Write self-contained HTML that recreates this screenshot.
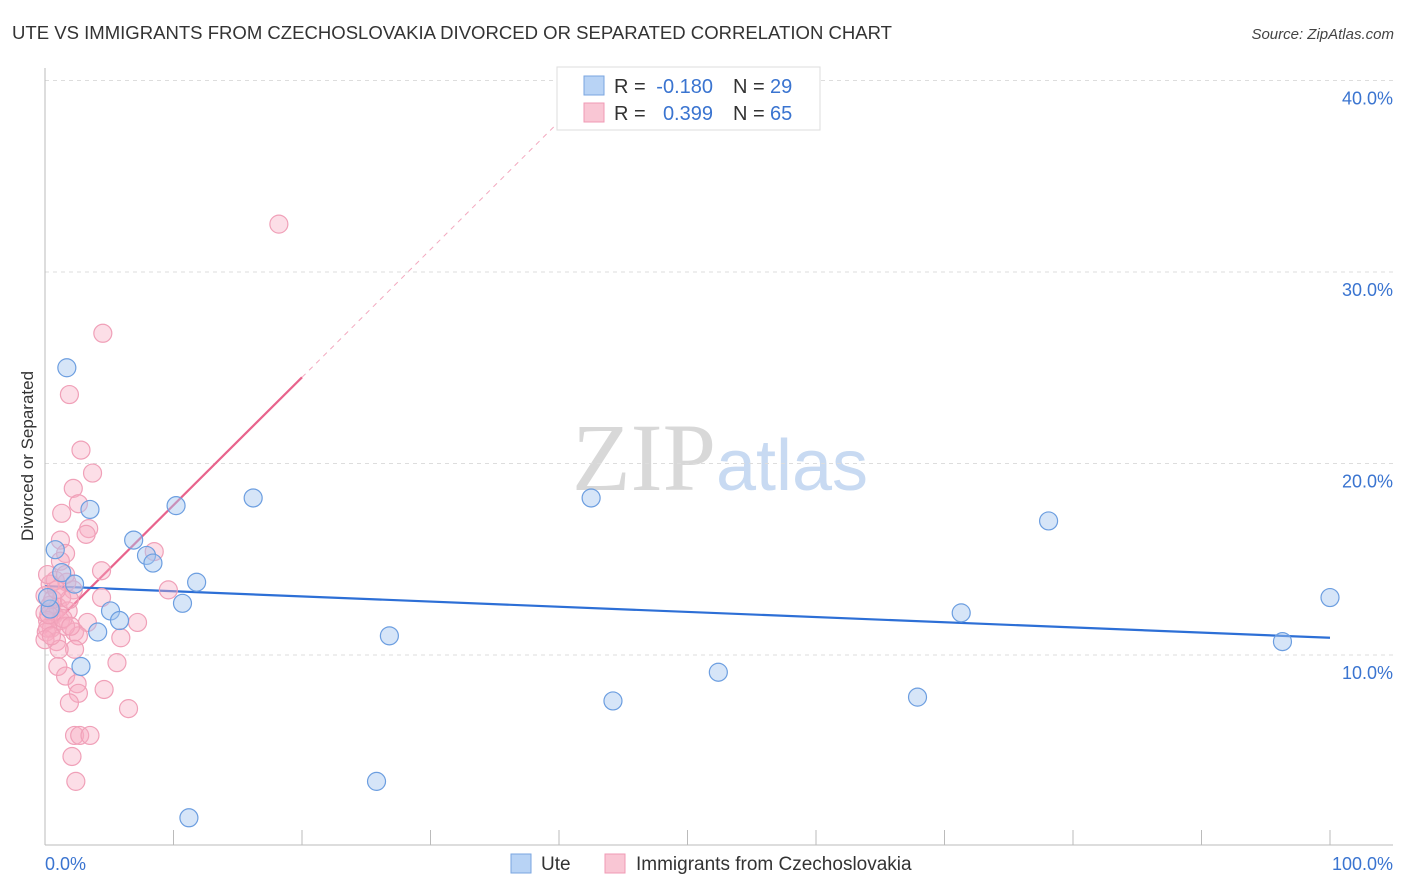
<!DOCTYPE html>
<html><head><meta charset="utf-8"><style>
body{margin:0;background:#fff;font-family:"Liberation Sans",sans-serif}
svg{display:block}
</style></head><body>
<svg id="chart" width="1406" height="892" xmlns="http://www.w3.org/2000/svg">
<text x="12" y="39" font-size="18" fill="#333" textLength="880" lengthAdjust="spacingAndGlyphs">UTE VS IMMIGRANTS FROM CZECHOSLOVAKIA DIVORCED OR SEPARATED CORRELATION CHART</text>
<text x="1394" y="39" font-size="15" fill="#444" text-anchor="end" font-style="italic">Source: ZipAtlas.com</text>
<text x="720" y="490" font-size="96" text-anchor="middle"><tspan fill="#d8d8d8" font-family="Liberation Serif">ZIP</tspan><tspan fill="#c8daf2" font-size="72">atlas</tspan></text>
<g id="grid"></g>
<line x1="45" y1="68" x2="45" y2="845" stroke="#bbb"/>
<line x1="45" y1="845" x2="1393" y2="845" stroke="#bbb"/>
<g id="ticks"></g>
<text transform="translate(33,456) rotate(-90)" font-size="17" fill="#333" text-anchor="middle">Divorced or Separated</text>
<text x="45" y="870" font-size="18" fill="#3a74d0">0.0%</text>
<text x="1393" y="870" font-size="18" fill="#3a74d0" text-anchor="end">100.0%</text>
<g id="trend"></g>
<g id="points"></g>
<g>
<rect x="557" y="67" width="263" height="63" fill="#fff" stroke="#ddd"/>
<rect x="584" y="76" width="20" height="19" fill="#b8d3f5" stroke="#7aa6e0"/>
<rect x="584" y="103" width="20" height="19" fill="#f9c6d4" stroke="#f09ab4"/>
<text x="614" y="93" font-size="20" fill="#333">R =</text>
<text x="713" y="93" font-size="20" fill="#3a74d0" text-anchor="end">-0.180</text>
<text x="733" y="93" font-size="20" fill="#333">N =</text>
<text x="770" y="93" font-size="20" fill="#3a74d0">29</text>
<text x="614" y="120" font-size="20" fill="#333">R =</text>
<text x="713" y="120" font-size="20" fill="#3a74d0" text-anchor="end">0.399</text>
<text x="733" y="120" font-size="20" fill="#333">N =</text>
<text x="770" y="120" font-size="20" fill="#3a74d0">65</text>
</g>
<g>
<rect x="511" y="854" width="20" height="19" fill="#b8d3f5" stroke="#7aa6e0"/>
<text x="541" y="870" font-size="19" fill="#333">Ute</text>
<rect x="605" y="854" width="20" height="19" fill="#f9c6d4" stroke="#f09ab4"/>
<text x="636" y="870" font-size="19" fill="#333">Immigrants from Czechoslovakia</text>
</g>
</svg>
<script>
const yTicks=[10,20,30,40];
const yTickLabels=["10.0%","20.0%","30.0%","40.0%"];
const xTickCount=10;
const uteX=[1.7,0.8,3.5,1.3,2.3,6.9,7.9,8.4,10.2,16.2,11.8,10.7,5.1,5.8,4.1,2.8,11.2,25.8,26.8,42.5,44.2,52.4,67.9,71.3,78.1,96.3,100,0.4,0.2];
const uteY=[25.0,15.5,17.6,14.3,13.7,16.0,15.2,14.8,17.8,18.2,13.8,12.7,12.3,11.8,11.2,9.4,1.5,3.4,11.0,18.2,7.6,9.1,7.8,12.2,17.0,10.7,13.0,12.4,13.0];
const czX=[18.2,4.5,1.9,2.8,3.7,2.2,2.6,1.3,3.4,3.2,1.2,1.6,1.2,4.4,0.8,1.7,2.2,0,1.3,4.4,0.4,1.0,1.8,0,0.7,0.2,1.2,3.3,7.2,0.5,0.1,2.3,2.6,5.9,0.9,2.3,1.0,5.6,1.6,2.5,4.6,2.6,1.9,6.5,2.3,2.7,3.5,2.1,2.4,8.5,9.6,0.2,0.4,1.1,1.6,0,0.6,1.9,0.3,1.4,0.9,0.2,1.6,0.5,2.0];
const czY=[32.5,26.8,23.6,20.7,19.5,18.7,17.9,17.4,16.6,16.3,16.0,15.3,14.9,14.4,13.9,13.8,13.4,13.1,13.0,13.0,12.6,12.5,12.3,12.2,12.1,11.8,11.8,11.7,11.7,11.4,11.2,11.2,11.0,10.9,10.7,10.3,9.4,9.6,8.9,8.5,8.2,8.0,7.5,7.2,5.8,5.8,5.8,4.7,3.4,15.4,13.4,11.4,13.7,10.3,11.5,10.8,12.9,12.9,12.1,11.9,13.4,14.2,14.2,11.0,11.5];
const uteTrend=[13.6,10.9];
const czTrend=[11.15,24.5];
const sx=p=>45+12.85*p, sy=v=>846.5-19.15*v;
const NS="http://www.w3.org/2000/svg";
function mk(tag,attrs,parent){const e=document.createElementNS(NS,tag);for(const k in attrs)e.setAttribute(k,attrs[k]);parent.appendChild(e);return e;}
const grid=document.getElementById('grid');
yTicks.forEach((t,i)=>{
 const l=mk('line',{x1:45,x2:1393,y1:sy(t),y2:sy(t),stroke:'#ddd','stroke-dasharray':'4,4'},grid);
 
 
 const tx=mk('text',{x:1393,y:sy(t)+24,'font-size':18,fill:'#3a74d0','text-anchor':'end'},grid);
 tx.textContent=yTickLabels[i];
 
 
});
const ticks=document.getElementById('ticks');
for(let i=1;i<=xTickCount;i++){
 const l=mk('line',{x1:sx(i*10),x2:sx(i*10),y1:830,y2:845,stroke:'#bbb'},ticks);
 
 
}
const tr=document.getElementById('trend');
const d=mk('line',{x1:sx(20),y1:sy(czTrend[1]),x2:sx(40),y2:sy(czTrend[0]+(czTrend[1]-czTrend[0])*2),stroke:'#f3a9bf','stroke-dasharray':'5,5','stroke-width':1},tr);


const pl=mk('line',{x1:sx(0),y1:sy(czTrend[0]),x2:sx(20),y2:sy(czTrend[1]),stroke:'#e8638c','stroke-width':2.2},tr);


const bl=mk('line',{x1:sx(0),y1:sy(uteTrend[0]),x2:sx(100),y2:sy(uteTrend[1]),stroke:'#2d6fd6','stroke-width':2.2},tr);


const pts=document.getElementById('points');
czX.forEach((x,i)=>{
 const c=mk('circle',{cx:sx(x),cy:sy(czY[i]),r:9,fill:'rgba(248,172,196,0.4)',stroke:'#f0a0b8','stroke-width':1.2},pts);
 
 
});
uteX.forEach((x,i)=>{
 const c=mk('circle',{cx:sx(x),cy:sy(uteY[i]),r:9,fill:'rgba(164,198,240,0.45)',stroke:'#6c9ee0','stroke-width':1.2},pts);
 
 
});
</script>
</body></html>
